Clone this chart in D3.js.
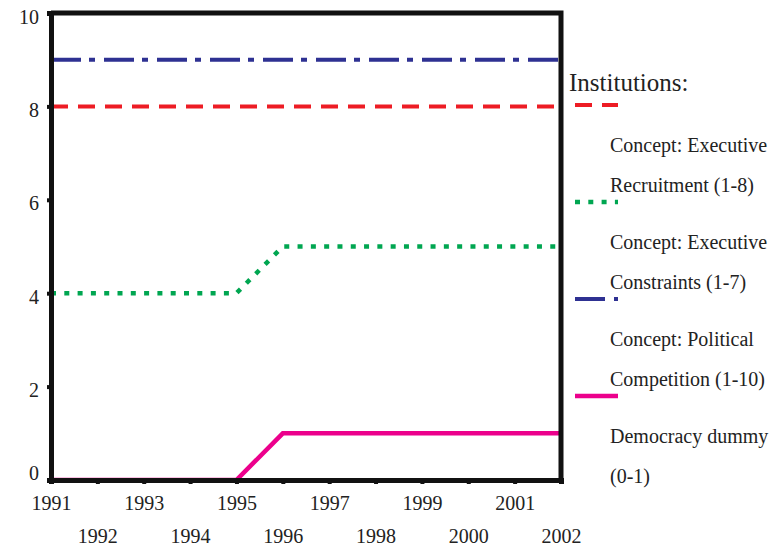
<!DOCTYPE html>
<html>
<head>
<meta charset="utf-8">
<script src="https://cdn.jsdelivr.net/npm/d3@7"></script>
<style>
  body { margin: 0; background: #fff; }
</style>
</head>
<body>
<div id="chart"></div>
<script>
// data
const years = [1991, 1992, 1993, 1994, 1995, 1996, 1997, 1998, 1999, 2000, 2001, 2002];
const execRecruitment = [8, 8, 8, 8, 8, 8, 8, 8, 8, 8, 8, 8];
const execConstraints = [4, 4, 4, 4, 4, 5, 5, 5, 5, 5, 5, 5];
const politicalCompetition = [9, 9, 9, 9, 9, 9, 9, 9, 9, 9, 9, 9];
const democracyDummy = [0, 0, 0, 0, 0, 1, 1, 1, 1, 1, 1, 1];
const yTicks = [0, 2, 4, 6, 8, 10];
const legendTitle = "Institutions:";
const legendLabels = [
    ["Concept: Executive", "Recruitment (1-8)"],
    ["Concept: Executive", "Constraints (1-7)"],
    ["Concept: Political", "Competition (1-10)"],
    ["Democracy dummy", "(0-1)"]
];

const serif = "'Liberation Serif', 'Times New Roman', Times, serif";
const width = 770, height = 546;
const margin = {top: 13, right: 209, bottom: 66, left: 51};

const svg = d3.select("#chart")
    .append("svg")
    .attr("width", width)
    .attr("height", height);

const x = d3.scaleLinear()
    .domain([1991, 2002])
    .range([margin.left, width - margin.right]);

const y = d3.scaleLinear()
    .domain([0, 10])
    .range([height - margin.bottom, margin.top]);

const series = [
    {values: execRecruitment, color: "#ed1c24", dash: "17,10", width: 4},
    {values: execConstraints, color: "#00a651", dash: "5,8.3", width: 4.5},
    {values: politicalCompetition, color: "#2e3192", dash: "30,8,6,9", width: 4},
    {values: democracyDummy, color: "#ec008c", dash: null, width: 4.5}
];

const line = d3.line()
    .x((d, i) => x(years[i]))
    .y(d => y(d));

series.forEach(s => {
    svg.append("path")
        .datum(s.values)
        .attr("fill", "none")
        .attr("stroke", s.color)
        .attr("stroke-width", s.width)
        .attr("stroke-dasharray", s.dash)
        .attr("d", line);
});

// frame: top and right borders
svg.append("path")
    .attr("fill", "none")
    .attr("stroke", "#111")
    .attr("stroke-width", 5)
    .attr("d", `M${x(1991)},${y(10)}H${x(2002)}V${y(0)}`);

// x axis, odd years on first row, even years on second row
const xAxis = svg.append("g")
    .attr("transform", `translate(0,${y(0)})`)
    .call(d3.axisBottom(x).tickValues(years).tickFormat(d3.format("d")).tickSize(4));
xAxis.select(".domain").attr("stroke", "#111").attr("stroke-width", 5);
xAxis.selectAll(".tick line").attr("stroke", "#111").attr("stroke-width", 4);
xAxis.selectAll(".tick text")
    .style("font-family", serif)
    .style("font-size", "20px")
    .attr("fill", "#222")
    .attr("y", d => (d % 2 === 1) ? 16 : 49);

// y axis
const yAxis = svg.append("g")
    .attr("transform", `translate(${x(1991)},0)`)
    .call(d3.axisLeft(y).tickValues(yTicks).tickSize(4).tickPadding(8));
yAxis.select(".domain").attr("stroke", "#111").attr("stroke-width", 5);
yAxis.selectAll(".tick line").attr("stroke", "#111").attr("stroke-width", 4);
yAxis.selectAll(".tick text")
    .style("font-family", serif)
    .style("font-size", "20px")
    .attr("fill", "#222")
    .attr("dy", d => d === 0 ? "-0.05em" : "0.5em");

// legend: markers sit above their labels, as in the original
const lg = svg.append("g");
lg.append("text")
    .attr("x", 569)
    .attr("y", 91)
    .style("font-family", serif)
    .style("font-size", "25px")
    .attr("fill", "#222")
    .text(legendTitle);

series.forEach((s, i) => {
    const my = 105 + i * 97;
    lg.append("line")
        .attr("x1", 575).attr("x2", 618)
        .attr("y1", my).attr("y2", my)
        .attr("stroke", s.color)
        .attr("stroke-width", s.width)
        .attr("stroke-dasharray", s.dash ? s.dash.replace("30,8", "30,9") : null);
    legendLabels[i].forEach((t, j) => {
        lg.append("text")
            .attr("x", 610)
            .attr("y", my + 47 + j * 40)
            .style("font-family", serif)
            .style("font-size", "20px")
            .attr("fill", "#222")
            .text(t);
    });
});
</script>
</body>
</html>
